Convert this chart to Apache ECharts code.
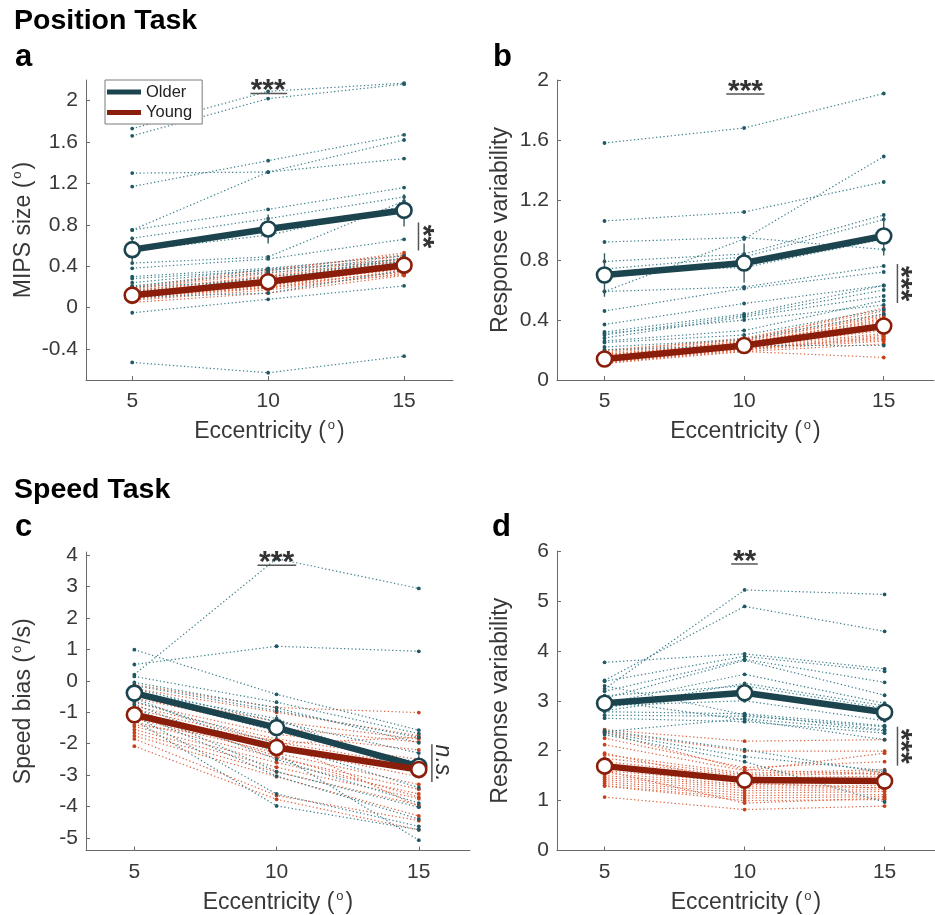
<!DOCTYPE html>
<html>
<head>
<meta charset="utf-8">
<script src="https://cdn.jsdelivr.net/npm/echarts@6/dist/echarts.min.js"></script>
<style>html,body{margin:0;padding:0;background:#fff}#c{width:935px;height:915px}</style>
</head>
<body>
<div id="c"></div>
<script>
// ---------- data ----------
const ecc = [5, 10, 15];

const aTicks = [-0.4, 0, 0.4, 0.8, 1.2, 1.6, 2];
const bTicks = [0, 0.4, 0.8, 1.2, 1.6, 2];
const cTicks = [-5, -4, -3, -2, -1, 0, 1, 2, 3, 4];
const dTicks = [0, 1, 2, 3, 4, 5, 6];

// Panel a: MIPS size, individual subjects
const aOlder = [
  [1.73, 2.09, 2.17], [1.66, 2.02, 2.16], [1.30, 1.31, 1.44], [1.17, 1.42, 1.67],
  [0.75, 1.31, 1.62], [0.75, 0.95, 1.16], [0.67, 0.86, 1.07], [0.43, 0.49, 1.03],
  [0.38, 0.47, 0.66], [0.30, 0.38, 0.50], [0.28, 0.36, 0.47], [0.24, 0.37, 0.44],
  [0.21, 0.34, 0.42], [0.12, 0.30, 0.40], [0.16, 0.23, 0.45], [-0.05, 0.08, 0.21],
  [-0.53, -0.63, -0.47], [0.20, 0.26, 0.48], [0.10, 0.14, 0.36], [0.55, 0.70, 0.98]
];
const aYoung = [
  [0.05, 0.14, 0.31], [0.07, 0.17, 0.33], [0.08, 0.19, 0.36], [0.09, 0.20, 0.35],
  [0.10, 0.22, 0.38], [0.10, 0.21, 0.40], [0.11, 0.24, 0.37], [0.12, 0.23, 0.41],
  [0.12, 0.25, 0.42], [0.13, 0.27, 0.40], [0.13, 0.26, 0.44], [0.14, 0.28, 0.43],
  [0.15, 0.27, 0.46], [0.15, 0.30, 0.45], [0.16, 0.31, 0.48], [0.17, 0.29, 0.47],
  [0.18, 0.33, 0.50], [0.19, 0.35, 0.53], [0.20, 0.37, 0.51], [0.11, 0.19, 0.32],
  [0.09, 0.24, 0.39], [0.14, 0.22, 0.34]
];
const aOlderMean = [0.56, 0.76, 0.94];
const aOlderErr = [0.125, 0.14, 0.155];
const aYoungMean = [0.12, 0.25, 0.41];
const aYoungErr = [0.02, 0.025, 0.03];

// Panel b: response variability (position)
const bOlder = [
  [1.58, 1.68, 1.91], [1.06, 1.12, 1.32], [0.59, 0.94, 1.49], [0.92, 0.95, 0.87],
  [0.79, 0.84, 1.10], [0.74, 0.82, 1.07], [0.59, 0.62, 0.76], [0.46, 0.61, 0.72],
  [0.37, 0.51, 0.63], [0.32, 0.44, 0.63], [0.30, 0.43, 0.60], [0.28, 0.42, 0.56],
  [0.26, 0.33, 0.53], [0.22, 0.27, 0.44], [0.20, 0.23, 0.23], [0.31, 0.40, 0.50],
  [0.25, 0.30, 0.47], [0.72, 0.75, 0.94]
];
const bYoung = [
  [0.11, 0.19, 0.24], [0.12, 0.20, 0.26], [0.12, 0.21, 0.28], [0.13, 0.21, 0.30],
  [0.13, 0.22, 0.31], [0.14, 0.22, 0.33], [0.14, 0.23, 0.34], [0.15, 0.23, 0.35],
  [0.15, 0.24, 0.36], [0.16, 0.24, 0.38], [0.16, 0.25, 0.40], [0.17, 0.26, 0.42],
  [0.18, 0.27, 0.44], [0.19, 0.28, 0.46], [0.20, 0.27, 0.48], [0.12, 0.19, 0.15],
  [0.14, 0.25, 0.39], [0.13, 0.20, 0.29], [0.15, 0.22, 0.37], [0.17, 0.24, 0.41],
  [0.11, 0.21, 0.27], [0.16, 0.26, 0.43]
];
const bOlderMean = [0.70, 0.78, 0.96];
const bOlderErr = [0.145, 0.13, 0.13];
const bYoungMean = [0.14, 0.23, 0.36];
const bYoungErr = [0.015, 0.02, 0.025];

// Panel c: speed bias
const cOlder = [
  [0.20, 3.89, 2.94], [0.52, 1.10, 0.94], [0.99, -0.43, -1.57], [0.14, -0.68, -1.68],
  [-0.05, -0.86, -1.97], [-0.25, -1.30, -2.30], [-0.45, -1.60, -2.60], [-0.65, -2.00, -3.40],
  [-0.75, -2.50, -3.89], [-0.85, -2.89, -4.02], [-1.00, -3.03, -4.40], [-1.10, -3.60, -4.63],
  [-1.25, -3.98, -4.74], [-0.55, -2.30, -5.07], [-0.35, -1.20, -3.00], [-0.15, -0.95, -1.80]
];
const cYoung = [
  [-0.12, -0.85, -1.01], [-0.25, -1.00, -1.75], [-0.40, -1.30, -1.85], [-0.55, -1.50, -1.95],
  [-0.70, -1.70, -2.20], [-0.80, -1.85, -2.50], [-0.90, -1.95, -2.70], [-1.00, -2.05, -2.90],
  [-1.10, -2.15, -3.05], [-1.20, -2.30, -3.30], [-1.30, -2.45, -3.45], [-1.45, -2.60, -3.60],
  [-1.55, -2.75, -3.75], [-1.65, -2.90, -3.95], [-1.75, -3.05, -4.30], [-1.85, -3.65, -4.45],
  [-2.08, -3.77, -4.74], [-1.40, -2.00, -1.80], [-0.95, -2.40, -3.70], [-1.20, -1.90, -4.00]
];
const cOlderMean = [-0.39, -1.49, -2.72];
const cOlderErr = [0.30, 0.40, 0.35];
const cYoungMean = [-1.08, -2.12, -2.82];
const cYoungErr = [0.12, 0.22, 0.25];

// Panel d: response variability (speed)
const dOlder = [
  [3.24, 5.22, 5.13], [3.41, 4.89, 4.39], [3.77, 3.94, 3.64], [3.39, 3.89, 3.59],
  [3.19, 3.83, 3.37], [3.05, 3.81, 3.11], [2.95, 3.53, 2.95], [2.85, 3.35, 2.90],
  [2.78, 2.74, 2.50], [2.71, 2.69, 2.48], [2.65, 2.58, 2.35], [2.90, 3.00, 2.60],
  [2.40, 2.02, 1.55], [2.36, 1.88, 1.60], [2.32, 1.78, 0.97], [3.00, 2.62, 2.22],
  [2.80, 3.20, 2.75], [3.10, 3.30, 2.85], [2.38, 2.64, 2.40], [3.30, 2.72, 2.42]
];
const dYoung = [
  [2.42, 2.19, 2.22], [2.38, 1.99, 1.99], [2.25, 1.66, 1.78], [2.12, 1.60, 1.95],
  [1.92, 1.55, 1.62], [1.85, 1.52, 1.58], [1.78, 1.49, 1.55], [1.72, 1.45, 1.49],
  [1.66, 1.40, 1.45], [1.60, 1.36, 1.40], [1.55, 1.32, 1.36], [1.50, 1.29, 1.30],
  [1.46, 1.25, 1.26], [1.42, 1.20, 1.22], [1.38, 1.15, 1.18], [1.34, 1.10, 1.12],
  [1.30, 1.05, 1.08], [1.29, 1.00, 1.02], [1.07, 0.82, 0.89], [2.36, 1.62, 1.52],
  [1.95, 1.35, 1.25], [1.60, 0.95, 1.05]
];
const dOlderMean = [2.95, 3.16, 2.77];
const dOlderErr = [0.14, 0.17, 0.14];
const dYoungMean = [1.69, 1.41, 1.39];
const dYoungErr = [0.08, 0.10, 0.08];

// ---------- styling ----------
const FONT = '"Liberation Sans", Arial, Helvetica, sans-serif';
const OLD = '#1c444e', OLD_DOT = '#3d7f8c', OLD_PT = '#1e5966';
const YNG = '#8b1e0a', YNG_DOT = '#dd6442', YNG_PT = '#c8401a';
const AX = '#6a6a6a', TXT = '#383838';

const grids = [
  {left: 86, top: 80, width: 367, height: 300},
  {left: 557, top: 80, width: 377, height: 300},
  {left: 86, top: 552, width: 384, height: 299},
  {left: 557, top: 551, width: 383, height: 300}
];
const yRanges = [[-0.7, 2.2], [0, 2], [-5.4, 4.1], [0, 6]];
const yTickSets = [aTicks, bTicks, cTicks, dTicks];
const yNames = ['{t|MIPS size (}{s|o}{t|)}', '{t|Response variability}', '{t|Speed bias (}{s|o}{t|/s)}', '{t|Response variability}'];
const yGaps = [49, 43, 49, 43];
const nameRich = {
  t: {fontSize: 23, lineHeight: 26, color: TXT, fontFamily: FONT},
  s: {fontSize: 13, lineHeight: 23, verticalAlign: 'top', color: TXT, fontFamily: FONT, padding: [0, 2, 0, 2]}
};

const xAxis = grids.map((g, i) => ({
  type: 'value', gridIndex: i, min: 3.3, max: 16.8,
  name: '{t|Eccentricity (}{s|o}{t|)}', nameLocation: 'middle', nameGap: 39,
  nameTextStyle: {fontSize: 23, color: TXT, fontFamily: FONT, rich: nameRich},
  axisLine: {show: true, onZero: false, lineStyle: {color: AX, width: 1}},
  axisTick: {show: true, inside: true, length: 4, customValues: ecc, lineStyle: {color: AX}},
  axisLabel: {customValues: ecc, fontSize: 21, color: TXT, margin: 11, fontFamily: FONT},
  splitLine: {show: false}
}));
const yAxis = grids.map((g, i) => ({
  type: 'value', gridIndex: i, min: yRanges[i][0], max: yRanges[i][1],
  name: yNames[i], nameLocation: 'middle', nameGap: yGaps[i],
  nameTextStyle: {fontSize: 23, color: TXT, fontFamily: FONT, rich: nameRich},
  axisLine: {show: true, onZero: false, lineStyle: {color: AX, width: 1}},
  axisTick: {show: true, inside: true, length: 4, customValues: yTickSets[i], lineStyle: {color: AX}},
  axisLabel: {customValues: yTickSets[i], fontSize: 21, color: TXT, margin: 8, fontFamily: FONT},
  splitLine: {show: false}
}));

const series = [];
function addSubjects(idx, rows, lineColor, ptColor) {
  rows.forEach(r => {
    series.push({
      type: 'line', xAxisIndex: idx, yAxisIndex: idx, silent: true, animation: false,
      data: ecc.map((x, k) => [x, r[k]]),
      symbol: 'circle', symbolSize: 3.8, showAllSymbol: true,
      itemStyle: {color: ptColor},
      lineStyle: {color: lineColor, width: 1.2, type: [1.3, 2.4]},
      z: 2
    });
  });
}
function addErr(idx, mean, err, color) {
  series.push({
    type: 'custom', xAxisIndex: idx, yAxisIndex: idx, silent: true, animation: false, z: 4,
    data: ecc.map((x, k) => [x, mean[k] - err[k], mean[k] + err[k]]),
    renderItem: (p, api) => {
      const a = api.coord([api.value(0), api.value(1)]);
      const b = api.coord([api.value(0), api.value(2)]);
      return {type: 'line', shape: {x1: a[0], y1: a[1], x2: b[0], y2: b[1]},
        style: {stroke: color, lineWidth: 1.4}};
    }
  });
}
function addMean(idx, name, mean, color, z) {
  series.push({
    type: 'line', name: name, xAxisIndex: idx, yAxisIndex: idx, silent: true, animation: false,
    data: ecc.map((x, k) => [x, mean[k]]),
    symbol: 'circle', symbolSize: 15,
    itemStyle: {color: '#fff', borderColor: color, borderWidth: 2.6},
    lineStyle: {color: color, width: 6.5},
    z: z
  });
}
// significance annotations: top bracket and right vertical bar
function addSig(idx, top, side) {
  series.push({
    type: 'custom', xAxisIndex: idx, yAxisIndex: idx, silent: true, animation: false, z: 6,
    data: [[0]],
    renderItem: (p, api) => {
      const t1 = api.coord([top.x1, top.y]);
      const t2 = api.coord([top.x2, top.y]);
      const tc = api.coord([top.xc, top.y]);
      const s1 = api.coord([side.x, side.y1]);
      const s2 = api.coord([side.x, side.y2]);
      const starFont = 'bold 30px ' + FONT;
      const sideFont = side.italic ? 'italic 23px ' + FONT : starFont;
      const sideShift = side.italic ? -2 : 6.3;
      return {type: 'group', children: [
        {type: 'line', shape: {x1: t1[0], y1: t1[1], x2: t2[0], y2: t2[1]},
          style: {stroke: '#555', lineWidth: 1.5}},
        {type: 'text', x: tc[0], y: tc[1] - 9 + 6.3,
          style: {text: top.label, font: starFont, fill: '#333', align: 'center', verticalAlign: 'middle'}},
        {type: 'line', shape: {x1: s1[0], y1: s1[1], x2: s2[0], y2: s2[1]},
          style: {stroke: '#555', lineWidth: 1.5}},
        {type: 'text', x: s1[0] + side.off - sideShift, y: (s1[1] + s2[1]) / 2, rotation: -Math.PI / 2,
          style: {text: side.label, font: sideFont, fill: '#333', align: 'center', verticalAlign: 'middle'}}
      ]};
    }
  });
}

const panels = [
  [aOlder, aYoung, aOlderMean, aOlderErr, aYoungMean, aYoungErr],
  [bOlder, bYoung, bOlderMean, bOlderErr, bYoungMean, bYoungErr],
  [cOlder, cYoung, cOlderMean, cOlderErr, cYoungMean, cYoungErr],
  [dOlder, dYoung, dOlderMean, dOlderErr, dYoungMean, dYoungErr]
];
panels.forEach((pn, i) => {
  addSubjects(i, pn[1], YNG_DOT, YNG_PT);
  addSubjects(i, pn[0], OLD_DOT, OLD_PT);
  addErr(i, pn[2], pn[3], '#3a5a62');
  addErr(i, pn[4], pn[5], YNG);
  addMean(i, 'Older', pn[2], OLD, 8);
  addMean(i, 'Young', pn[4], YNG, 9);
});
addSig(0, {x1: 9.35, x2: 10.7, xc: 10.0, y: 2.07, label: '***'}, {x: 15.53, y1: 0.823, y2: 0.552, off: 10, label: '**'});
addSig(1, {x1: 9.36, x2: 10.73, xc: 10.05, y: 1.907, label: '***'}, {x: 15.49, y1: 0.773, y2: 0.513, off: 9, label: '***'});
addSig(2, {x1: 9.33, x2: 10.69, xc: 10.0, y: 3.68, label: '***'}, {x: 15.46, y1: -2.02, y2: -3.22, off: 8.5, label: 'n.s.', italic: true});
addSig(3, {x1: 9.52, x2: 10.47, xc: 10.0, y: 5.74, label: '**'}, {x: 15.46, y1: 2.48, y2: 1.70, off: 9, label: '***'});

const heads = [
  {x: 14, y: 21, t: 'Position Task', s: 28.5},
  {x: 15, y: 57, t: 'a', s: 31},
  {x: 493, y: 57, t: 'b', s: 31},
  {x: 14, y: 490, t: 'Speed Task', s: 28.5},
  {x: 15, y: 527, t: 'c', s: 31},
  {x: 492, y: 527, t: 'd', s: 31}
];

const chart = echarts.init(document.getElementById('c'), null, {renderer: 'canvas'});
chart.setOption({
  animation: false,
  backgroundColor: '#fff',
  textStyle: {fontFamily: FONT},
  grid: grids.map(g => Object.assign({containLabel: false}, g)),
  xAxis: xAxis,
  yAxis: yAxis,
  legend: {
    orient: 'vertical', left: 105, top: 80,
    itemWidth: 34, itemHeight: 5, itemGap: 3.5, icon: 'rect',
    padding: [3.5, 10, 3, 2],
    borderColor: '#7a7a7a', borderWidth: 1, backgroundColor: '#fff',
    textStyle: {fontSize: 16.5, color: '#222', fontFamily: FONT},
    selectedMode: false,
    data: [
      {name: 'Older', itemStyle: {color: OLD, borderWidth: 0}},
      {name: 'Young', itemStyle: {color: YNG, borderWidth: 0}}
    ]
  },
  graphic: heads.map(h => ({
    type: 'text', x: h.x, y: h.y,
    style: {text: h.t, font: 'bold ' + h.s + 'px ' + FONT, fill: '#000', verticalAlign: 'middle'}
  })),
  series: series
});
</script>
</body>
</html>
